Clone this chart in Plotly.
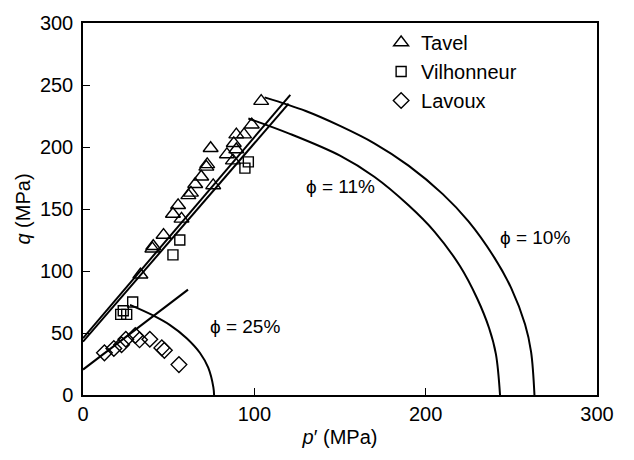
import plotly.graph_objects as go

# ---- data ----
tavel_p = [33.5, 40.5, 41, 47, 52.5, 57.5, 55.5, 61.5, 63, 65.5, 69, 72, 72.5, 76, 74.5, 84, 87.5, 88, 89.5, 89.5, 94, 98.5, 104]
tavel_q = [97, 118, 120, 129, 146, 142, 153, 161, 163, 170, 176, 184, 186, 169, 199, 194, 189, 203, 198, 210, 210, 218, 237]

vil_p = [22, 23.5, 25.5, 29, 52.5, 56.5, 94.5, 96.5]
vil_q = [65, 68, 65, 75, 113, 125, 183, 188]

lav_p = [12.5, 18, 22.5, 25, 30.5, 33, 39, 46, 47.5, 56]
lav_q = [34, 37.5, 40.5, 45, 48, 44.5, 45, 38, 36, 24.5]

# fitted lines
lineA_p = [0, 121]
lineA_q = [45.8, 242]
lineB_p = [0, 120]
lineB_q = [43, 235]
lineL_p = [0, 61.3]
lineL_q = [20.5, 85]

# yield curves
phi10_p = [106, 130, 150, 170, 190, 210, 225, 240, 250, 258, 261.5, 263.5]
phi10_q = [240, 229, 217, 203, 185, 162, 140, 111, 86, 57, 35, 0]
phi11_p = [96.5, 120, 150, 170, 190, 205, 220, 230, 237, 241, 243.4]
phi11_q = [223, 211, 193, 176, 153, 132, 104, 78, 54, 33, 0]
phi25_p = [27.4, 40, 50.8, 60.5, 68.3, 73.1, 76.1, 76.5]
phi25_q = [72.7, 64.8, 56.4, 45.8, 33.9, 22, 6.2, 0]

labels = ["ϕ = 11%", "ϕ = 10%", "ϕ = 25%"]
label_p = [150, 264, 94.5]
label_q = [168, 127, 55]

FONT = "Liberation Sans, Arial, sans-serif"

fig = go.Figure()
lw = 2
for px, qy in [(lineA_p, lineA_q), (lineB_p, lineB_q), (lineL_p, lineL_q)]:
    fig.add_trace(go.Scatter(x=px, y=qy, mode="lines", line=dict(color="black", width=lw),
                             showlegend=False, hoverinfo="skip"))
for px, qy in [(phi10_p, phi10_q), (phi11_p, phi11_q), (phi25_p, phi25_q)]:
    fig.add_trace(go.Scatter(x=px, y=qy, mode="lines", line=dict(color="black", width=lw, shape="spline", smoothing=1.0),
                             showlegend=False, hoverinfo="skip"))

fig.add_trace(go.Scatter(x=tavel_p, y=tavel_q, mode="markers", name="Tavel",
                         marker=dict(symbol="triangle-up-open", size=13, color="black", line=dict(width=1.4))))
fig.add_trace(go.Scatter(x=vil_p, y=vil_q, mode="markers", name="Vilhonneur",
                         marker=dict(symbol="square-open", size=10, color="black", line=dict(width=1.4))))
fig.add_trace(go.Scatter(x=lav_p, y=lav_q, mode="markers", name="Lavoux",
                         marker=dict(symbol="diamond-open", size=12, color="black", line=dict(width=1.4))))

for t, x, y in zip(labels, label_p, label_q):
    fig.add_annotation(x=x, y=y, text=t, showarrow=False, font=dict(size=19, color="black", family=FONT))

axis_common = dict(showline=True, linecolor="black", linewidth=1.5, mirror=True, showgrid=False,
                   zeroline=False, ticks="inside", ticklen=7, tickwidth=1.2, tickcolor="black",
                   tickfont=dict(size=20, color="black", family=FONT))
fig.update_xaxes(range=[0, 300], tickvals=[0, 100, 200, 300],
                 title=dict(text="<i>p</i>′ (MPa)", font=dict(size=20, color="black", family=FONT), standoff=6),
                 **axis_common)
fig.update_yaxes(range=[0, 300], tickvals=[0, 50, 100, 150, 200, 250, 300], ticklabelstandoff=4,
                 title=dict(text="<i>q</i> (MPa)", font=dict(size=20, color="black", family=FONT), standoff=4),
                 **axis_common)

fig.update_layout(width=634, height=460, margin=dict(l=83, r=37, t=15, b=65),
                  plot_bgcolor="white", paper_bgcolor="white",
                  font=dict(family=FONT, color="black"),
                  legend=dict(x=0.58, y=1.0, xanchor="left", yanchor="top", bgcolor="rgba(0,0,0,0)",
                              font=dict(size=20, color="black", family=FONT), itemwidth=30))

fig.write_html("out.html")
